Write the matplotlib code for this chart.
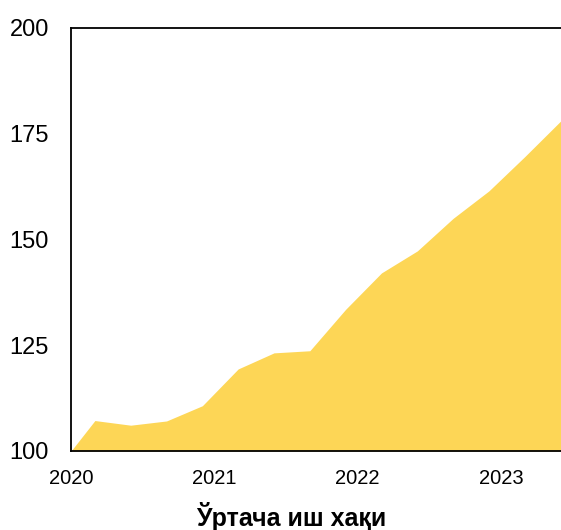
import matplotlib
matplotlib.use("Agg")
import matplotlib.pyplot as plt

dates = ["2020-01", "2020-03", "2020-06", "2020-09", "2020-12",
         "2021-03", "2021-06", "2021-09", "2021-12",
         "2022-03", "2022-06", "2022-09", "2022-12",
         "2023-03", "2023-06"]
values = [100.0, 107.2, 106.1, 107.1, 110.7,
          119.4, 123.2, 123.7, 133.5,
          142.1, 147.3, 155.0, 161.5,
          169.6, 178.0]
year_ticks = [2020, 2021, 2022, 2023]
y_ticks = [100, 125, 150, 175, 200]
xlabel = "Ўртача иш хақи"

def to_year(s):
    y, m = s.split("-")
    return int(y) + (int(m) - 1) / 12.0

x = [to_year(d) for d in dates]

plt.rcParams['font.family'] = ['Liberation Sans', 'DejaVu Sans']

fig = plt.figure(figsize=(5.61, 5.30), dpi=100)
ax = fig.add_axes([71/561, 79/530, 490/561, 423/530])
ax.fill_between(x, 100, values, color='#FDD656', linewidth=0, zorder=1)

ax.set_xlim(2020, 2020 + 490/143.3)
ax.set_ylim(100, 200)
ax.set_xticks(year_ticks)
ax.set_xticklabels([str(t) for t in year_ticks])
ax.set_yticks(y_ticks)
ax.tick_params(axis='x', length=0, pad=13, labelsize=14.5)
ax.tick_params(axis='y', length=0, pad=16, labelsize=17)
for s in ['left', 'top', 'bottom']:
    ax.spines[s].set_linewidth(1.3)
    ax.spines[s].set_color('black')
    ax.spines[s].set_zorder(3)
ax.spines['right'].set_visible(False)

fig.text(291/561, 1 - 526/530, xlabel, ha='center', va='baseline',
         fontsize=18, fontweight='bold')

fig.savefig("out.png", dpi=100)
